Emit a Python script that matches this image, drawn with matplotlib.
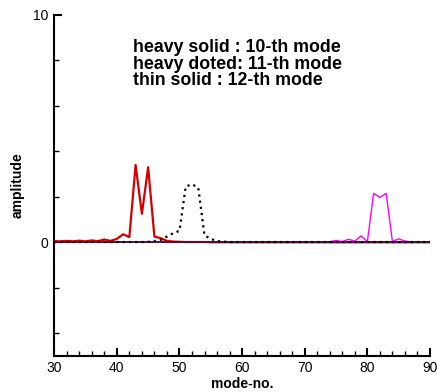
import matplotlib.pyplot as plt
from matplotlib.ticker import MultipleLocator

plt.rcParams['font.family'] = ['Liberation Sans', 'DejaVu Sans']

# mode numbers and amplitudes
mode_no = list(range(30, 91))

# 10-th mode (heavy solid)
mode10 = [0.05, 0.04, 0.06, 0.04, 0.07, 0.04, 0.08, 0.05, 0.12, 0.06,
          0.15, 0.35, 0.23, 3.40, 1.25, 3.30, 0.25, 0.18, 0.06, 0.03,
          0.02, 0.01, 0.01, 0.01, 0.01, 0.0, 0.0, 0.0, 0.0, 0.0,
          0.0, 0.0, 0.0, 0.0, 0.0, 0.0, 0.0, 0.0, 0.0, 0.0,
          0.0, 0.0, 0.0, 0.0, 0.0, 0.0, 0.0, 0.0, 0.0, 0.0,
          0.0, 0.0, 0.0, 0.0, 0.0, 0.0, 0.0, 0.0, 0.0, 0.0, 0.0]

# 11-th mode (heavy doted)
mode11 = [0.01, 0.01, 0.01, 0.01, 0.01, 0.01, 0.01, 0.01, 0.01, 0.01,
          0.01, 0.01, 0.01, 0.01, 0.01, 0.02, 0.05, 0.10, 0.25, 0.40,
          0.50, 2.45, 2.55, 2.40, 0.30, 0.15, 0.05, 0.03, 0.01, 0.01,
          0.01, 0.01, 0.01, 0.01, 0.01, 0.01, 0.01, 0.01, 0.01, 0.01,
          0.01, 0.01, 0.01, 0.01, 0.01, 0.01, 0.01, 0.01, 0.01, 0.01,
          0.01, 0.01, 0.01, 0.01, 0.01, 0.01, 0.01, 0.01, 0.01, 0.01, 0.01]

# 12-th mode (thin solid)
mode12 = [0.0, 0.0, 0.0, 0.0, 0.0, 0.0, 0.0, 0.0, 0.0, 0.0,
          0.0, 0.0, 0.0, 0.0, 0.0, 0.0, 0.0, 0.0, 0.0, 0.0,
          0.0, 0.0, 0.0, 0.0, 0.0, 0.0, 0.0, 0.0, 0.0, 0.0,
          0.0, 0.0, 0.0, 0.0, 0.0, 0.0, 0.01, 0.02, 0.01, 0.03,
          0.01, 0.03, 0.01, 0.02, 0.02, 0.08, 0.03, 0.13, 0.05, 0.28,
          0.03, 2.15, 1.97, 2.15, 0.03, 0.15, 0.05, 0.02, 0.01, 0.01, 0.01]

fig = plt.figure(figsize=(4.37, 3.92), dpi=100)
ax = fig.add_axes([0.124, 0.092, 0.86, 0.870])

ax.plot(mode_no, mode12, color='#ff00ff', lw=1.0, zorder=2)
ax.plot(mode_no, mode10, color='#d40000', lw=1.6, zorder=3)
ax.axhline(0, color='#4b0a3c', lw=1.3, zorder=4)
ax.plot(mode_no, mode11, color='black', lw=1.6, ls=(0, (1, 1.8)), zorder=5)

ax.set_xlim(30, 90)
ax.set_ylim(-5, 10)
ax.xaxis.set_major_locator(MultipleLocator(10))
ax.xaxis.set_minor_locator(MultipleLocator(2))
ax.set_yticks([0, 10])
ax.yaxis.set_minor_locator(MultipleLocator(2))

for s in ['top', 'right']:
    ax.spines[s].set_visible(False)
for s in ['left', 'bottom']:
    ax.spines[s].set_linewidth(1.5)

ax.tick_params(which='major', direction='in', length=6, width=1.5, labelsize=10, pad=4)
ax.tick_params(which='minor', direction='in', length=3.5, width=1.0)

ax.set_xlabel('mode-no.', fontsize=10, fontweight='bold', labelpad=1)
ax.set_ylabel('amplitude', fontsize=10, fontweight='bold', labelpad=6)

ax.text(0.21, 0.93, 'heavy solid : 10-th mode\nheavy doted: 11-th mode\nthin solid : 12-th mode',
        transform=ax.transAxes, fontsize=12.8, fontweight='bold', va='top', ha='left',
        linespacing=0.98)

fig.savefig('out.png', dpi=100)
